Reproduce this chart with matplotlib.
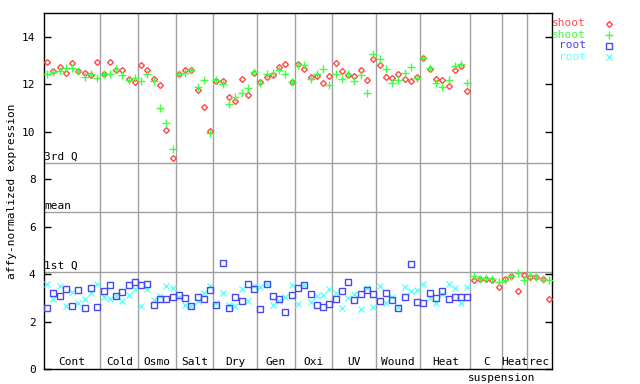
import matplotlib
matplotlib.use("Agg")
import matplotlib.pyplot as plt
import numpy as np

# groups of samples along the x axis
groups = ["Cont", "Cold", "Osmo", "Salt", "Dry", "Gen", "Oxi", "UV", "Wound", "Heat",
          "C", "Heat", "rec"]
group_sizes = [9, 6, 6, 6, 7, 6, 6, 7, 7, 8, 5, 4, 4]

# shoot (red / green) and root (blue / cyan) for the 68 treatment samples
shoot_red = [12.94, 12.56, 12.74, 12.48, 12.90, 12.55, 12.48, 12.37, 12.94,
             12.43, 12.94, 12.59, 12.58, 12.24, 12.10,
             12.79, 12.58, 12.20, 11.97, 10.05, 8.87,
             12.43, 12.58, 12.60, 11.75, 11.06, 10.03,
             12.15, 12.14, 11.47, 11.30, 12.23, 11.55, 12.48,
             12.11, 12.31, 12.39, 12.74, 12.86, 12.10,
             12.86, 12.65, 12.31, 12.34, 12.06, 12.35,
             12.90, 12.56, 12.39, 12.35, 12.60, 12.18, 13.07,
             12.82, 12.31, 12.27, 12.43, 12.23, 12.14, 12.31,
             13.11, 12.65, 12.23, 12.18, 11.93, 12.60, 12.77, 11.72]
shoot_green = [12.42, 12.52, 12.56, 12.69, 12.69, 12.56, 12.32, 12.43, 12.27,
               12.45, 12.42, 12.62, 12.37, 12.17, 12.27,
               12.14, 12.43, 12.15, 11.00, 10.38, 9.25,
               12.45, 12.49, 12.60, 11.89, 12.18, 9.96,
               12.18, 12.01, 11.17, 11.47, 11.61, 11.85, 12.52,
               12.06, 12.43, 12.48, 12.58, 12.41, 12.08,
               12.82, 12.79, 12.23, 12.43, 12.62, 11.97,
               12.43, 12.23, 12.43, 12.14, 12.39, 11.65, 13.28,
               13.07, 12.65, 12.06, 12.18, 12.48, 12.73, 12.27,
               13.11, 12.69, 12.06, 11.89, 12.18, 12.77, 12.86, 12.06]
root_blue = [2.57, 3.20, 3.08, 3.37, 2.66, 3.33, 2.57, 3.41, 2.62,
             3.29, 3.54, 3.08, 3.23, 3.54, 3.67,
             3.54, 3.58, 2.70, 2.93, 2.97, 3.04,
             3.12, 2.99, 2.66, 3.04, 2.95, 3.33,
             2.68, 4.47, 2.57, 3.04, 2.87, 3.58, 3.37,
             2.53, 3.58, 3.08, 2.95, 2.40, 3.12,
             3.41, 3.52, 3.16, 2.70, 2.61, 2.74,
             2.95, 3.29, 3.67, 2.91, 3.16, 3.33, 3.16,
             2.87, 3.20, 2.91, 2.57, 3.04, 4.43, 2.82,
             2.78, 3.20, 2.99, 3.29, 2.95, 3.04, 3.04, 3.04]
root_cyan = [3.58, 2.95, 3.50, 2.66, 3.25, 2.78, 2.95, 3.20, 3.58,
             3.04, 2.93, 3.08, 2.87, 3.12, 3.35,
             2.66, 3.35, 2.89, 3.08, 3.50, 3.41,
             3.04, 2.70, 2.66, 2.87, 3.20, 3.51,
             2.76, 3.20, 2.70, 2.66, 3.37, 2.87, 3.50,
             3.46, 3.58, 2.70, 2.87, 3.04, 3.54,
             2.74, 3.56, 2.82, 3.08, 3.12, 3.35,
             3.20, 2.57, 2.99, 3.16, 2.53, 3.41, 2.61,
             3.50, 2.78, 3.04, 2.61, 3.46, 3.29, 3.33,
             3.58, 2.99, 2.78, 3.16, 3.58, 3.41, 2.78, 3.46]

# cell suspension samples (shoot series only)
susp_red = [3.75, 3.79, 3.79, 3.75, 3.46, 3.79, 3.92, 3.29, 3.96, 3.88, 3.88, 3.79, 2.95]
susp_green = [3.92, 3.79, 3.84, 3.79, 3.67, 3.75, 3.92, 4.05, 3.75, 3.96, 3.88, 3.79, 3.75]

ref_lines = {"3rd Q": 8.69, "mean": 6.62, "1st Q": 4.09}

RED = "#ff4848"
GREEN = "#40ff40"
BLUE = "#4848f0"
CYAN = "#60ffff"
GRID = "#a0a0a0"
FONT = "DejaVu Sans Mono"

fig = plt.figure(figsize=(6.4, 3.84), dpi=100)
ax = fig.add_axes([44 / 640, 1 - 369 / 384, 508 / 640, 356 / 384])

n_treat = len(root_blue)
x_treat = np.arange(n_treat)
x_susp = np.arange(n_treat, n_treat + len(susp_red))
x_shoot = np.concatenate([x_treat, x_susp])

ax.plot(x_shoot, shoot_red + susp_red, ls="none", marker="D", ms=3.0,
        mfc="none", mec=RED, mew=1.0, label="shoot", zorder=4)
ax.plot(x_shoot, shoot_green + susp_green, ls="none", marker="+", ms=6,
        mec=GREEN, mew=1.0, label="shoot", zorder=5)
ax.plot(x_treat, root_blue, ls="none", marker="s", ms=4.2,
        mfc="none", mec=BLUE, mew=1.0, label="root", zorder=4)
ax.plot(x_treat, root_cyan, ls="none", marker="x", ms=4.5,
        mec=CYAN, mew=1.0, label="root", zorder=3)

total = sum(group_sizes)
ax.set_xlim(-0.5, total - 0.5)
ax.set_ylim(0, 15)

# group separators and labels
edges = np.cumsum([0] + group_sizes) - 0.5
for e in edges[1:-1]:
    ax.axvline(e, color=GRID, lw=1, zorder=1)
for name, a, b in zip(groups, edges[:-1], edges[1:]):
    ax.text((a + b) / 2, 0.08, name, ha="center", va="bottom",
            fontsize=8, family=FONT)
ax.text(edges[11], -0.15, "suspension", ha="center", va="top",
        fontsize=8, family=FONT, clip_on=False)

for name, val in ref_lines.items():
    ax.axhline(val, color=GRID, lw=1, zorder=1)
    ax.text(-0.5, val + 0.05, name, ha="left", va="bottom",
            fontsize=8, family=FONT)

ax.set_xticks([])
ax.set_yticks(range(0, 15, 2))
ax.tick_params(axis="y", direction="in", length=5, width=1, right=True,
               labelsize=8, pad=6)
for lbl in ax.get_yticklabels():
    lbl.set_family(FONT)
ax.set_ylabel("affy-normalized expression", fontsize=8, family=FONT, labelpad=4)
for sp in ax.spines.values():
    sp.set_linewidth(1)

# legend drawn by hand to the right of the plot
leg_colors = [RED, GREEN, BLUE, CYAN]
leg_names = ["shoot", "shoot", "root", "root"]
leg_marks = [dict(marker="D", ms=3.0, mfc="none", mew=1.0),
             dict(marker="+", ms=6, mew=1.0),
             dict(marker="s", ms=4.2, mfc="none", mew=1.0),
             dict(marker="x", ms=4.5, mew=1.0)]
for k, (c, n, m) in enumerate(zip(leg_colors, leg_names, leg_marks)):
    yy = 1 - (23.5 + 11 * k) / 384
    fig.text(586 / 640, yy, n, color=c, ha="right", va="center",
             fontsize=8, family=FONT)
    fig.add_artist(plt.Line2D([609 / 640], [yy], transform=fig.transFigure,
                              ls="none", mec=c, **m))

fig.savefig("out.png", dpi=100)
